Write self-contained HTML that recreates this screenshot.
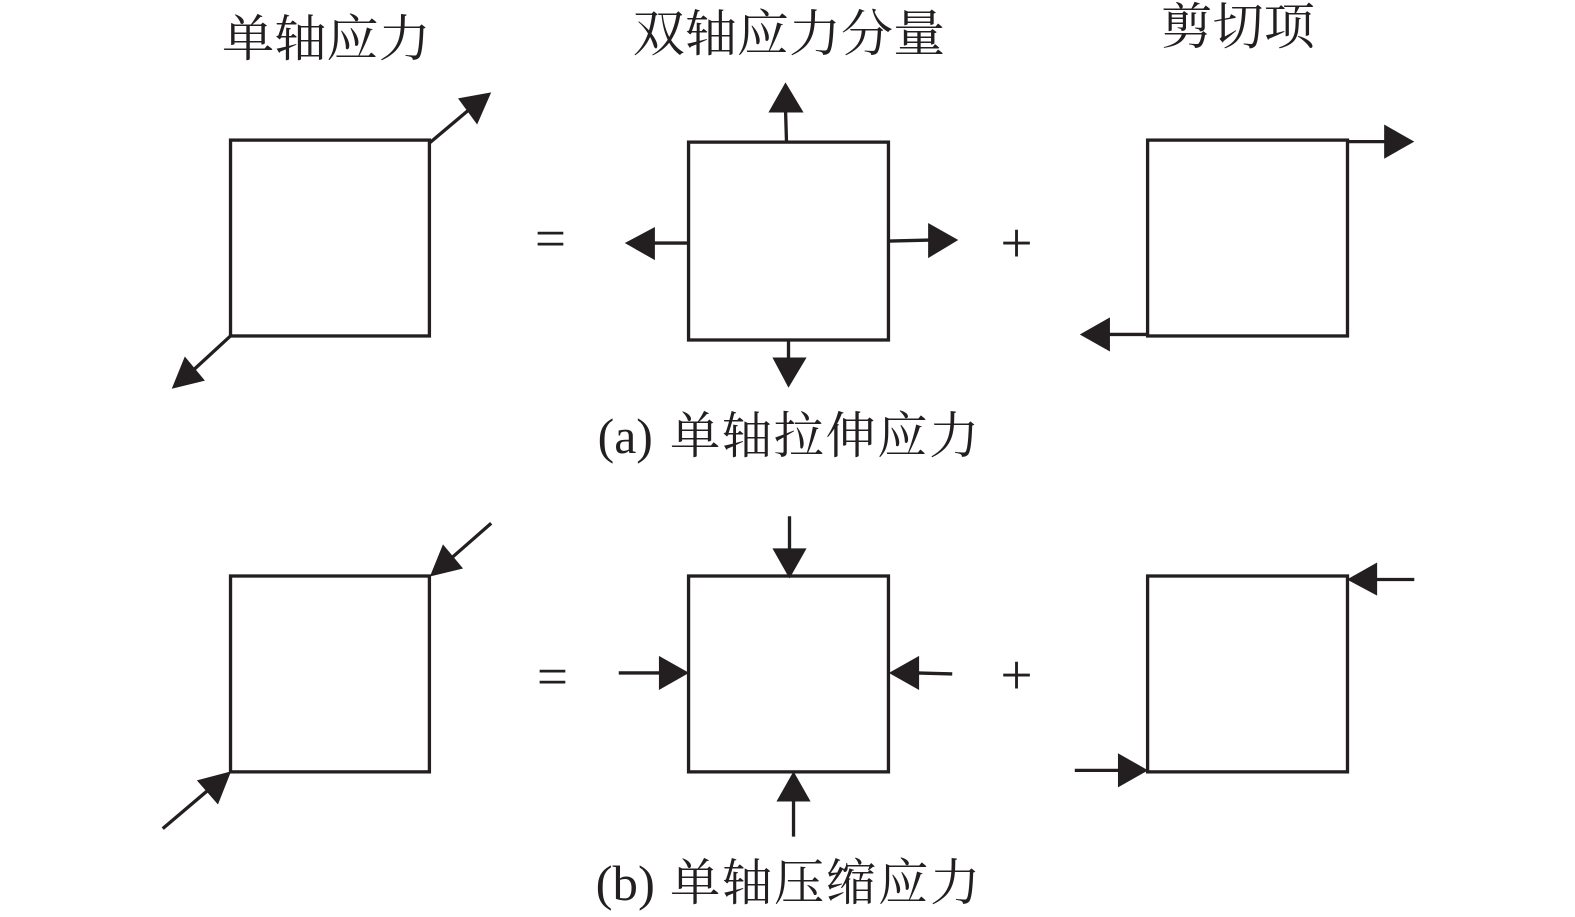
<!DOCTYPE html>
<html>
<head>
<meta charset="utf-8">
<style>
html,body{margin:0;padding:0;background:#fff;width:1575px;height:917px;overflow:hidden}
svg{display:block}
text{fill:#231f20;font-family:"Liberation Serif","Noto Serif CJK SC",serif}
</style>
</head>
<body>
<svg width="1575" height="917" viewBox="0 0 1568 913" preserveAspectRatio="none" xmlns="http://www.w3.org/2000/svg">
<g fill="none" stroke="#231f20" stroke-width="3.300">
<rect x="229.500" y="139.500" width="198" height="195"/>
<rect x="685.500" y="141.500" width="199" height="197"/>
<rect x="1142.500" y="139.500" width="199" height="195"/>
<rect x="229.500" y="573.500" width="198" height="195"/>
<rect x="685.500" y="573.500" width="199" height="195"/>
<rect x="1142.500" y="573.500" width="199" height="195"/>
<path d="M428 142L466 110M230 334L193 368M783 141L782 108M685 242L650 242M885 240L926 239M785 339L785 358M1342 141L1380 141M1142 333L1104 333"/>
<path d="M489 521L449 556M162 825L208 786M786 514L786 550M616 670L658 670M948 671L912 670M790 833L790 796M1408 577L1368 577M1070 767L1115 767"/>
</g>
<g fill="#231f20">
<path d="M489 92L456 98L475 124Z"/>
<path d="M171 387L204 379L184 355Z"/>
<path d="M782 82L765 112L800 112Z"/>
<path d="M622 242L652 226L652 259Z"/>
<path d="M954 239L924 222L924 257Z"/>
<path d="M785 386L769 356L803 356Z"/>
<path d="M1408 141L1378 124L1378 158Z"/>
<path d="M1075 333L1105 316L1105 350Z"/>
<path d="M428 574L461 566L441 542Z"/>
<path d="M230 768L196 777L217 801Z"/>
<path d="M786 576L769 546L803 546Z"/>
<path d="M686 670L656 653L656 687Z"/>
<path d="M885 670L915 653L915 687Z"/>
<path d="M790 768L773 798L807 798Z"/>
<path d="M1341 577L1371 560L1371 593Z"/>
<path d="M1143 767L1113 750L1113 784Z"/>
</g>
<g font-size="50">
<text x="221" y="56" textLength="208" lengthAdjust="spacingAndGlyphs">单轴应力</text>
<text x="630" y="51" textLength="311" lengthAdjust="spacingAndGlyphs">双轴应力分量</text>
<text x="1156" y="44" textLength="153" lengthAdjust="spacingAndGlyphs">剪切项</text>
<text x="595" y="451" textLength="55" lengthAdjust="spacingAndGlyphs">(a)</text>
<text x="667" y="451" textLength="308" lengthAdjust="spacing">单轴拉伸应力</text>
<text x="593" y="896" textLength="59" lengthAdjust="spacingAndGlyphs">(b)</text>
<text x="667" y="896" textLength="309" lengthAdjust="spacing">单轴压缩应力</text>
<text x="548" y="256" font-size="55" text-anchor="middle">=</text>
<text x="550" y="692" font-size="55" text-anchor="middle">=</text>
<text x="1012" y="261" font-size="57" text-anchor="middle">+</text>
<text x="1012" y="691" font-size="57" text-anchor="middle">+</text>
</g>
</svg>
</body>
</html>
